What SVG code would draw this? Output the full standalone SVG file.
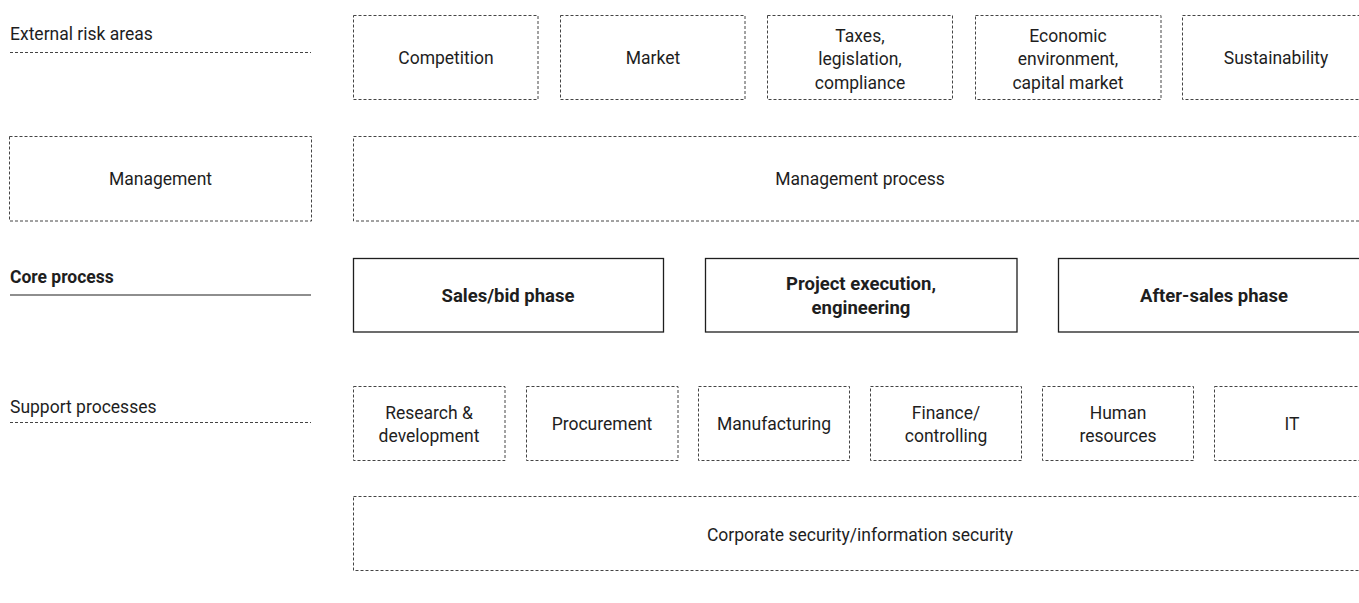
<svg xmlns="http://www.w3.org/2000/svg" width="1359" height="603" viewBox="0 0 1359 603">
<style>
text{font-family:Roboto,"Liberation Sans",sans-serif;font-size:17.5px;fill:#1e1e1e;text-anchor:middle}
.b{font-weight:bold;font-size:18.5px}
.l{text-anchor:start}
.d{fill:none;stroke:#444;stroke-width:1;stroke-dasharray:3 2}
.s{fill:none;stroke:#1e1e1e;stroke-width:1.3}
.dl{stroke:#444;stroke-width:1;stroke-dasharray:3 2}
.sl{stroke:#1e1e1e;stroke-width:1.2}
</style>
<rect width="1359" height="603" fill="#fff"/>
<g id="connectors">
<line class="dl" x1="10" y1="52.5" x2="311" y2="52.5"/>
<line class="sl" x1="10" y1="295" x2="311" y2="295"/>
<line class="dl" x1="10" y1="422.5" x2="311" y2="422.5"/>
</g>
<g id="label-external"><text class="l" x="10" y="40">External risk areas</text></g>
<g id="label-core"><text class="l b" x="10" y="283" style="font-size:17.5px">Core process</text></g>
<g id="label-support"><text class="l" x="10" y="413">Support processes</text></g>

<g id="competition"><rect class="d" x="353.5" y="15.5" width="184.5" height="84"/><text x="446" y="63.5">Competition</text></g>
<g id="market"><rect class="d" x="560.5" y="15.5" width="184.5" height="84"/><text x="653" y="63.5">Market</text></g>
<g id="taxes"><rect class="d" x="767.5" y="15.5" width="185" height="84"/><text x="860" y="41.5">Taxes,</text><text x="860" y="65">legislation,</text><text x="860" y="88.5">compliance</text></g>
<g id="economic"><rect class="d" x="975.5" y="15.5" width="185.5" height="84"/><text x="1068" y="41.5">Economic</text><text x="1068" y="65">environment,</text><text x="1068" y="88.5">capital market</text></g>
<g id="sustainability"><rect class="d" x="1182.5" y="15.5" width="186" height="84"/><text x="1276" y="63.5">Sustainability</text></g>

<g id="management"><rect class="d" x="9.5" y="136.5" width="302" height="84.5"/><text x="160.5" y="185">Management</text></g>
<g id="management-process"><rect class="d" x="353.5" y="136.5" width="1013" height="84.5"/><text x="860" y="185">Management process</text></g>

<g id="sales"><rect class="s" x="353.5" y="258.5" width="310" height="73.5"/><text class="b" x="508" y="301.5">Sales/bid phase</text></g>
<g id="project"><rect class="s" x="705.5" y="258.5" width="311.5" height="73.5"/><text class="b" x="861" y="290">Project execution,</text><text class="b" x="861" y="313.5">engineering</text></g>
<g id="aftersales"><rect class="s" x="1058.5" y="258.5" width="312" height="73.5"/><text class="b" x="1214" y="301.5">After-sales phase</text></g>

<g id="rnd"><rect class="d" x="353.5" y="386.5" width="151.5" height="74"/><text x="429" y="418.5">Research &amp;</text><text x="429" y="442">development</text></g>
<g id="procurement"><rect class="d" x="526.5" y="386.5" width="151.5" height="74"/><text x="602" y="429.5">Procurement</text></g>
<g id="manufacturing"><rect class="d" x="698.5" y="386.5" width="151" height="74"/><text x="774" y="429.5">Manufacturing</text></g>
<g id="finance"><rect class="d" x="870.5" y="386.5" width="151" height="74"/><text x="946" y="418.5">Finance/</text><text x="946" y="442">controlling</text></g>
<g id="hr"><rect class="d" x="1042.5" y="386.5" width="151" height="74"/><text x="1118" y="418.5">Human</text><text x="1118" y="442">resources</text></g>
<g id="it"><rect class="d" x="1214.5" y="386.5" width="151.5" height="74"/><text x="1292" y="429.5">IT</text></g>

<g id="corporate-security"><rect class="d" x="353.5" y="496.5" width="1013" height="74"/><text x="860" y="540.5">Corporate security/information security</text></g>
</svg>
